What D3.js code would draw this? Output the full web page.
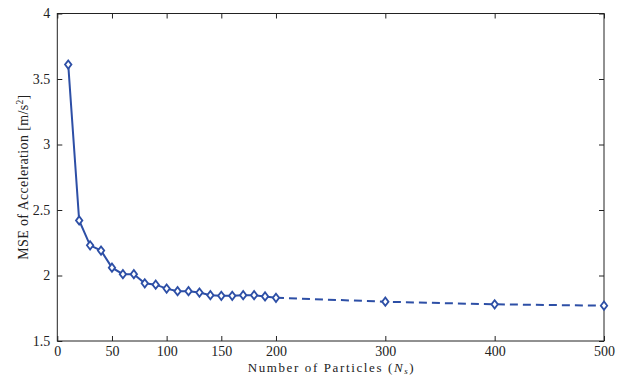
<!DOCTYPE html>
<html>
<head>
<meta charset="utf-8">
<script src="https://cdn.jsdelivr.net/npm/d3@7"></script>
<style>
  html, body { margin: 0; padding: 0; background: #fff; }
  svg text { font-family: "Liberation Serif", "DejaVu Serif", serif; fill: #222; }
</style>
</head>
<body>
<div id="chart"></div>
<script>
// particle counts and MSE values
const particles = [10, 20, 30, 40, 50, 60, 70, 80, 90, 100, 110, 120, 130, 140, 150, 160, 170, 180, 190, 200, 300, 400, 500];
const mse       = [3.61, 2.42, 2.23, 2.19, 2.06, 2.01, 2.01, 1.94, 1.93, 1.90, 1.88, 1.88, 1.87, 1.85, 1.845, 1.845, 1.85, 1.85, 1.84, 1.83, 1.80, 1.78, 1.77];
const xTicks = [0, 50, 100, 150, 200, 300, 400, 500];
const xTickLabels = ["0", "50", "100", "150", "200", "300", "400", "500"];
const yTicks = [1.5, 2, 2.5, 3, 3.5, 4];
const yTickLabels = ["1.5", "2", "2.5", "3", "3.5", "4"];
const solidEnd = 200; // solid line up to here, dashed afterwards

const W = 621, H = 379;
const M = { t: 13.5, r: 17, b: 38, l: 57.3 };
const w = W - M.l - M.r, h = H - M.t - M.b;
const BLUE = "#2d4fa6";

const svg = d3.select("#chart").append("svg").attr("width", W).attr("height", H);
const g = svg.append("g").attr("transform", `translate(${M.l},${M.t})`);

const x = d3.scaleLinear().domain([0, 500]).range([0, w]);
const y = d3.scaleLinear().domain([1.5, 4]).range([h, 0]);

// frame
g.append("rect").attr("width", w).attr("height", h)
  .attr("fill", "none").attr("stroke", "#222").attr("stroke-width", 1);

// axes, ticks pointing inward
const tk = 5;
const ax = d3.axisBottom(x).tickValues(xTicks).tickFormat((d, i) => xTickLabels[i]).tickSize(-tk).tickPadding(5.5);
const ay = d3.axisLeft(y).tickValues(yTicks).tickFormat((d, i) => yTickLabels[i]).tickSize(-tk).tickPadding(7);
const axTop = d3.axisTop(x).tickValues(xTicks).tickFormat("").tickSize(-tk);
const ayRight = d3.axisRight(y).tickValues(yTicks).tickFormat("").tickSize(-tk);

const styleAxis = sel => {
  sel.select(".domain").remove();
  sel.selectAll("line").attr("stroke", "#222");
  sel.selectAll("text").attr("font-size", 14).attr("fill", "#222")
    .style("font-family", "'Liberation Serif', serif");
};
g.append("g").attr("transform", `translate(0,${h})`).call(ax).call(styleAxis);
g.append("g").call(ay).call(styleAxis);
g.append("g").call(axTop).call(styleAxis);
g.append("g").attr("transform", `translate(${w},0)`).call(ayRight).call(styleAxis);

// data
const pts = particles.map((p, i) => ({ p, v: mse[i] }));
const line = d3.line().x(d => x(d.p)).y(d => y(d.v));

g.append("path").datum(pts.filter(d => d.p <= solidEnd))
  .attr("d", line).attr("fill", "none").attr("stroke", BLUE).attr("stroke-width", 2);
g.append("path").datum(pts.filter(d => d.p >= solidEnd))
  .attr("d", line).attr("fill", "none").attr("stroke", BLUE).attr("stroke-width", 2)
  .attr("stroke-dasharray", "8,5");

const diamond = d3.symbol().type(d3.symbolDiamond2).size(36);
g.selectAll("path.mk").data(pts).join("path")
  .attr("class", "mk")
  .attr("transform", d => `translate(${x(d.p)},${y(d.v)}) scale(0.85,1.1)`)
  .attr("d", diamond)
  .attr("fill", "#fff").attr("stroke", BLUE).attr("stroke-width", 1.9);

// axis labels
const xl = svg.append("text")
  .attr("x", M.l + w / 2).attr("y", 371.5)
  .attr("text-anchor", "middle").attr("font-size", 13)
  .attr("textLength", 166).attr("lengthAdjust", "spacing");
xl.append("tspan").text("Number of Particles (");
xl.append("tspan").attr("font-style", "italic").text("N");
xl.append("tspan").attr("font-style", "italic").attr("font-size", 9).attr("dy", 2.5).text("s");
xl.append("tspan").attr("dy", -2.5).text(")");

const yl = svg.append("text")
  .attr("transform", `translate(28,${M.t + h / 2}) rotate(-90)`)
  .attr("text-anchor", "middle").attr("font-size", 14)
  .attr("textLength", 165).attr("lengthAdjust", "spacing");
yl.append("tspan").text("MSE of Acceleration [m/s");
yl.append("tspan").attr("font-size", 9.5).attr("dy", -5).text("2");
yl.append("tspan").attr("dy", 5).text("]");
</script>
</body>
</html>
